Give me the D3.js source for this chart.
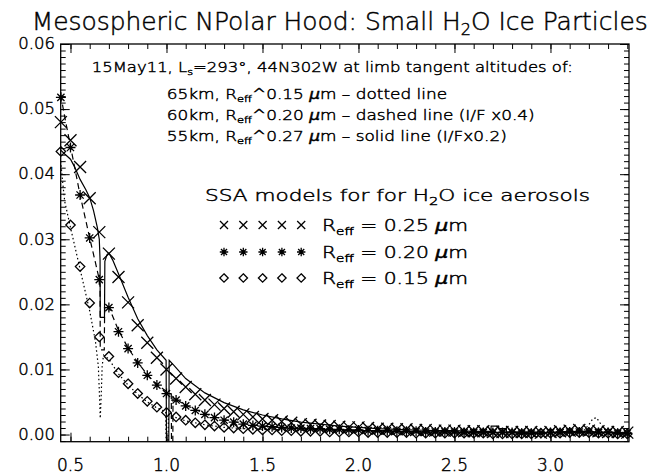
<!DOCTYPE html>
<html lang="en">
<meta charset="UTF-8">
<style>
    body{ margin:0; background:#fff; }
    text{ font-family: "DejaVu Sans", sans-serif; font-weight:200; fill:#000; stroke:#000; stroke-width:0.45px; }
    .line{ fill:none; stroke:#000; stroke-width:1.2px; }
    .mark{ fill:none; stroke:#000; stroke-width:1.3px; }
    .tick line{ stroke:#000; stroke-width:1px; }
</style>
<body>
<svg width="651" height="475" id="chart"></svg>
<script src="https://d3js.org/d3.v7.min.js"></script>
<script>
// model wavelengths (micron) for the SSA marker series
const wavelength = [0.45,0.50,0.55,0.60,0.65,0.70,0.75,0.80,0.85,0.90,0.95,1.00,1.05,1.10,1.15,1.20,1.25,1.30,1.35,1.40,
    1.45,1.50,1.55,1.60,1.65,1.70,1.75,1.80,1.85,1.90,1.95,2.00,2.05,2.10,2.15,2.20,2.25,2.30,2.35,2.40,
    2.45,2.50,2.55,2.60,2.65,2.70,2.75,2.80,2.85,2.90,2.95,3.00,3.05,3.10,3.15,3.20,3.25,3.30,3.35,3.40];

// SSA models, R_eff = 0.25 (x), 0.20 (*), 0.15 (diamond)
const ssaR025 = [0.0480,0.0452,0.0411,0.0363,0.0311,0.0278,0.0242,0.0203,0.0168,0.0141,0.0118,0.0100,0.0086,0.0073,0.0062,0.0053,0.0046,0.0040,0.0035,0.0031,
    0.0027,0.0024,0.0022,0.0020,0.0018,0.0016,0.0015,0.0014,0.0013,0.0012,0.0011,0.0011,0.0010,0.0009,0.0009,0.0008,0.0008,0.0007,0.0007,0.0006,
    0.0006,0.0006,0.0005,0.0005,0.0005,0.0004,0.0004,0.0004,0.0004,0.0004,0.0003,0.0004,0.0005,0.0006,0.0007,0.0006,0.0005,0.0004,0.0004,0.0003];
const ssaR020 = [0.0518,0.0441,0.0368,0.0302,0.0238,0.0195,0.0158,0.0132,0.0110,0.0091,0.0076,0.0063,0.0053,0.0044,0.0037,0.0031,0.0026,0.0022,0.0019,0.0016,
    0.0014,0.0013,0.0012,0.0011,0.0010,0.0010,0.0009,0.0009,0.0008,0.0008,0.0007,0.0007,0.0006,0.0006,0.0006,0.0005,0.0005,0.0005,0.0004,0.0004,
    0.0004,0.0004,0.0003,0.0003,0.0003,0.0003,0.0003,0.0003,0.0002,0.0002,0.0002,0.0003,0.0003,0.0004,0.0004,0.0004,0.0003,0.0003,0.0002,0.0002];
const ssaR015 = [0.0435,0.0322,0.0258,0.0202,0.0150,0.0120,0.0095,0.0078,0.0063,0.0051,0.0042,0.0034,0.0027,0.0022,0.0018,0.0015,0.0013,0.0011,0.0010,0.0009,
    0.0008,0.0007,0.0007,0.0006,0.0006,0.0005,0.0005,0.0005,0.0004,0.0004,0.0004,0.0004,0.0003,0.0003,0.0003,0.0003,0.0003,0.0002,0.0002,0.0002,
    0.0002,0.0002,0.0002,0.0002,0.0002,0.0001,0.0001,0.0001,0.0001,0.0001,0.0002,0.0002,0.0002,0.0003,0.0003,0.0003,0.0002,0.0002,0.0001,0.0001];

// observed spectra [wavelength, I/F]
const dotted65 = [[0.449,0.0420],[0.46,0.0385],[0.47,0.0358],[0.50,0.0318],[0.55,0.0254],[0.60,0.0190],[0.63,0.0143],[0.645,0.0105],[0.650,0.0068],
    [0.655,0.0025],[0.660,0.0060],[0.665,0.0105],[0.672,0.0122],[0.70,0.0116],[0.75,0.0093],[0.80,0.0076],[0.85,0.0062],[0.90,0.0050],[0.95,0.0041],
    [0.996,0.0035],[0.998,-0.0011],[1.008,-0.0011],[1.010,0.0030],[1.05,0.0026],[1.10,0.0021],[1.20,0.0015],[1.30,0.0011],[1.40,0.0009],[1.60,0.0007],
    [1.80,0.0006],[2.00,0.0005],[2.30,0.0004],[2.60,0.0004],[2.90,0.0003],[3.10,0.0004],[3.17,0.0005],[3.20,0.0015],[3.22,0.0024],[3.24,0.0026],
    [3.26,0.0017],[3.28,0.0009],[3.30,0.0004],[3.409,0.0003]];
const dashed60 = [[0.449,0.0522],[0.47,0.0488],[0.50,0.0443],[0.55,0.0368],[0.60,0.0302],[0.63,0.0264],[0.65,0.0238],[0.654,0.0228],[0.655,0.0130],
    [0.676,0.0130],[0.678,0.0198],[0.70,0.0196],[0.75,0.0160],[0.80,0.0133],[0.85,0.0111],[0.90,0.0092],[0.95,0.0077],[1.00,0.0066],[1.025,0.0062],
    [1.026,-0.0011],[1.033,-0.0011],[1.034,0.0058],[1.05,0.0054],[1.10,0.0045],[1.20,0.0032],[1.30,0.0023],[1.40,0.0017],[1.50,0.0013],[1.60,0.0011],
    [1.70,0.0009],[1.80,0.0008],[2.00,0.0006],[2.20,0.0005],[2.50,0.0004],[2.80,0.0003],[3.00,0.0003],[3.20,0.0004],[3.409,0.0003]];
const solid55 = [[0.449,0.0437],[0.47,0.0431],[0.50,0.0423],[0.52,0.0412],[0.55,0.0392],[0.58,0.0376],[0.60,0.0364],[0.62,0.0344],[0.64,0.0318],
    [0.65,0.0300],[0.654,0.0268],[0.655,0.0180],[0.677,0.0180],[0.679,0.0266],[0.69,0.0276],[0.70,0.0279],[0.72,0.0268],[0.75,0.0247],[0.80,0.0211],
    [0.85,0.0178],[0.90,0.0152],[0.95,0.0130],[0.998,0.0114],[1.000,-0.0011],[1.012,-0.0011],[1.014,0.0114],[1.04,0.0106],[1.10,0.0086],[1.20,0.0064],
    [1.30,0.0049],[1.40,0.0038],[1.50,0.0030],[1.60,0.0024],[1.70,0.0019],[1.80,0.0016],[1.90,0.0013],[2.00,0.0011],[2.10,0.0009],[2.20,0.0008],
    [2.30,0.0007],[2.40,0.0006],[2.50,0.0006],[2.60,0.0005],[2.69,0.0005],[2.691,0.0013],[2.73,0.0013],[2.731,0.0009],[2.77,0.0009],[2.771,0.0004],
    [2.90,0.0004],[3.00,0.0003],[3.10,0.0005],[3.20,0.0004],[3.30,0.0003],[3.409,0.0003]];

const xTicks = [0.5,1.0,1.5,2.0,2.5,3.0];
const yTicks = [0.00,0.01,0.02,0.03,0.04,0.05,0.06];
const legendRows = [{sym:"x", label:"0.25"},{sym:"star", label:"0.20"},{sym:"diamond", label:"0.15"}];

const svg = d3.select("#chart");
svg.append("rect").attr("width",651).attr("height",475).attr("fill","#fff");

const plotL = 60.7, plotR = 629, plotT = 44, plotB = 441.7;
const x = d3.scaleLinear().domain([0.449, 3.409]).range([plotL, plotR]);
const y = d3.scaleLinear().domain([-0.0011, 0.06]).range([plotB, plotT]);

// ticks, IDL style: inward on all four sides
const xMinor = d3.range(0.5, 3.41, 0.1);
const yMinor = d3.range(-0.001, 0.0605, 0.001);
function ticks(axis, tr){
    const g = svg.append("g").attr("transform", tr).call(axis);
    g.select(".domain").remove();
    g.selectAll("text").remove();
}
ticks(d3.axisBottom(x).tickValues(xMinor).tickSize(-5), `translate(0,${plotB})`);
ticks(d3.axisBottom(x).tickValues(xTicks).tickSize(-9), `translate(0,${plotB})`);
ticks(d3.axisTop(x).tickValues(xMinor).tickSize(-5), `translate(0,${plotT})`);
ticks(d3.axisTop(x).tickValues(xTicks).tickSize(-9), `translate(0,${plotT})`);
ticks(d3.axisLeft(y).tickValues(yMinor).tickSize(-5), `translate(${plotL},0)`);
ticks(d3.axisLeft(y).tickValues(yTicks).tickSize(-9), `translate(${plotL},0)`);
ticks(d3.axisRight(y).tickValues(yMinor).tickSize(-5), `translate(${plotR},0)`);
ticks(d3.axisRight(y).tickValues(yTicks).tickSize(-9), `translate(${plotR},0)`);

svg.append("rect").attr("x",plotL).attr("y",plotT).attr("width",plotR-plotL).attr("height",plotB-plotT)
    .attr("fill","none").attr("stroke","#000").attr("stroke-width",1.3);

svg.append("g").selectAll("text").data(xTicks).enter().append("text")
    .attr("x", d => x(d)).attr("y", 470.5).attr("text-anchor","middle")
    .attr("font-size","17px").text(d => d3.format(".1f")(d));
svg.append("g").selectAll("text").data(yTicks).enter().append("text")
    .attr("x", 55).attr("y", d => y(d)+5.3).attr("text-anchor","end")
    .attr("font-size","16.5px").text(d => d3.format(".2f")(d));

// data lines
svg.append("clipPath").attr("id","plotclip").append("rect")
    .attr("x",plotL).attr("y",plotT).attr("width",plotR-plotL).attr("height",plotB-plotT);
const line = d3.line().x(d => x(d[0])).y(d => y(d[1]));
const lines = svg.append("g").attr("clip-path","url(#plotclip)");
lines.append("path").attr("class","line").attr("d", line(dotted65))
    .attr("stroke-width",1.6).attr("stroke-dasharray","1.5,2.6");
lines.append("path").attr("class","line").attr("d", line(dashed60)).attr("stroke-dasharray","6,4");
lines.append("path").attr("class","line").attr("d", line(solid55));

// marker shapes
function symPath(type, s){
    if(type === "x") return `M${-s},${-s}L${s},${s}M${-s},${s}L${s},${-s}`;
    if(type === "star"){
        const d = s*0.72;
        return `M0,${-s}L0,${s}M${-s},0L${s},0M${-d},${-d}L${d},${d}M${-d},${d}L${d},${-d}`;
    }
    return `M0,${-s}L${s},0L0,${s}L${-s},0Z`;
}
function markers(values, type, s){
    svg.append("g").selectAll("path").data(values).enter().append("path")
        .attr("class","mark")
        .attr("transform", (d,i) => `translate(${x(wavelength[i])},${y(d)})`)
        .attr("d", symPath(type, s));
}
markers(ssaR025, "x", 6);
markers(ssaR020, "star", 5);
markers(ssaR015, "diamond", 4.7);

// title
const title = svg.append("text").attr("x",31.7).attr("y",30).attr("font-size","24px")
    .attr("textLength",616).attr("lengthAdjust","spacingAndGlyphs");
title.append("tspan").text("Mesospheric NPolar Hood: Small H");
title.append("tspan").attr("font-size","15.5px").attr("dy",5).text("2");
title.append("tspan").attr("dy",-5).text("O Ice Particles");

// annotation text
const note1 = svg.append("text").attr("x",91.7).attr("y",71.7).attr("font-size","14px")
    .attr("textLength",481).attr("lengthAdjust","spacingAndGlyphs");
note1.append("tspan").text("15May11, L");
note1.append("tspan").attr("font-size","9.5px").attr("dy",3).text("s");
note1.append("tspan").attr("dy",-3).text("=293°, 44N302W at limb tangent altitudes of:");

const notes = [
    {y:98.5, alt:"65km", r:"0.15", tail:" – dotted line"},
    {y:119.5, alt:"60km", r:"0.20", tail:" – dashed line (I/F x0.4)"},
    {y:140.5, alt:"55km", r:"0.27", tail:" – solid line (I/Fx0.2)"}
];
const noteEls = notes.map(n => {
    const t = svg.append("text").attr("x",166.7).attr("y",n.y).attr("font-size","14px");
    t.append("tspan").text(n.alt + ", R");
    t.append("tspan").attr("font-size","9.5px").attr("dy",3).text("eff");
    t.append("tspan").attr("dy",-3).text("^" + n.r + " ");
    t.append("tspan").attr("font-style","italic").text("μ");
    t.append("tspan").text("m" + n.tail);
    return t;
});
// same horizontal stretch on all three lines, set by the dashed-line text
const stretch = 368 / noteEls[1].node().getComputedTextLength();
noteEls.forEach(t => {
    t.attr("textLength", t.node().getComputedTextLength() * stretch).attr("lengthAdjust","spacingAndGlyphs");
});

// legend
const head = svg.append("text").attr("x",205).attr("y",200.5).attr("font-size","15.5px")
    .attr("textLength",385).attr("lengthAdjust","spacingAndGlyphs");
head.append("tspan").text("SSA models for for H");
head.append("tspan").attr("font-size","10.5px").attr("dy",4).text("2");
head.append("tspan").attr("dy",-4).text("O ice aerosols");

const rowY = [225, 252, 278];
legendRows.forEach((r, k) => {
    const g = svg.append("g");
    [0,1,2,3,4].forEach(j => {
        g.append("path").attr("class","mark")
            .attr("transform", `translate(${224 + j*19.3},${rowY[k]})`)
            .attr("d", symPath(r.sym, r.sym === "x" ? 4 : 4.2));
    });
    const t = svg.append("text").attr("x",322).attr("y",rowY[k]+5.5).attr("font-size","15px")
        .attr("textLength",146).attr("lengthAdjust","spacingAndGlyphs");
    t.append("tspan").text("R");
    t.append("tspan").attr("font-size","10px").attr("dy",4).text("eff");
    t.append("tspan").attr("dy",-4).text(" = " + r.label + " ");
    t.append("tspan").attr("font-style","italic").text("μ");
    t.append("tspan").text("m");
});
</script>
</body>
</html>
